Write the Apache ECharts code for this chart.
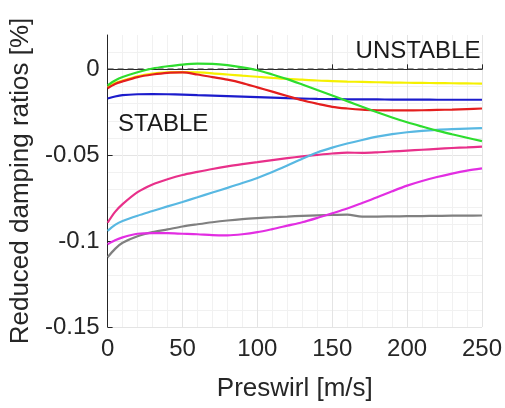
<!DOCTYPE html>
<html>
<head>
<meta charset="utf-8">
<script src="https://cdn.jsdelivr.net/npm/echarts@6/dist/echarts.min.js"></script>
<style>html,body{margin:0;padding:0;background:#fff}#c{width:505px;height:408px}</style>
</head>
<body>
<div id="c"></div>
<script>
var xs = [0,5,10,20,30,40,50,60,70,80,90,100,110,120,130,140,150,160,170,180,190,200,210,220,230,240,250];
var yellow  = [-0.0103,-0.0080,-0.0065,-0.0040,-0.0025,-0.0018,-0.0016,-0.0018,-0.0023,-0.0030,-0.0037,-0.0043,-0.0050,-0.0056,-0.0060,-0.0065,-0.0068,-0.0071,-0.0073,-0.0075,-0.0077,-0.0078,-0.0079,-0.0080,-0.0081,-0.0082,-0.0083];
var red     = [-0.0110,-0.0085,-0.0070,-0.0045,-0.0030,-0.0020,-0.0018,-0.0030,-0.0045,-0.0060,-0.0080,-0.0105,-0.0130,-0.0155,-0.0180,-0.0200,-0.0218,-0.0228,-0.0235,-0.0238,-0.0239,-0.0239,-0.0238,-0.0236,-0.0234,-0.0231,-0.0228];
var green   = [-0.0093,-0.0065,-0.0045,-0.0017,0.0005,0.0018,0.0028,0.0033,0.0032,0.0025,0.0012,-0.0005,-0.0030,-0.0057,-0.0088,-0.0120,-0.0152,-0.0185,-0.0218,-0.0250,-0.0280,-0.0308,-0.0333,-0.0357,-0.0378,-0.0398,-0.0418];
var blue    = [-0.0170,-0.0158,-0.0150,-0.0145,-0.0144,-0.0145,-0.0147,-0.0150,-0.0153,-0.0156,-0.0159,-0.0162,-0.0165,-0.0168,-0.0170,-0.0172,-0.0173,-0.0174,-0.0175,-0.0175,-0.0176,-0.0176,-0.0176,-0.0177,-0.0177,-0.0177,-0.0177];
var cyan    = [-0.0940,-0.0905,-0.0883,-0.0852,-0.0825,-0.0798,-0.0772,-0.0745,-0.0717,-0.0690,-0.0662,-0.0632,-0.0598,-0.0560,-0.0520,-0.0484,-0.0456,-0.0432,-0.0411,-0.0392,-0.0377,-0.0366,-0.0358,-0.0352,-0.0348,-0.0345,-0.0342];
var crimson = [-0.0893,-0.0830,-0.0785,-0.0715,-0.0670,-0.0640,-0.0615,-0.0597,-0.0580,-0.0565,-0.0552,-0.0540,-0.0528,-0.0517,-0.0507,-0.0498,-0.0490,-0.0485,-0.0486,-0.0483,-0.0478,-0.0473,-0.0468,-0.0463,-0.0458,-0.0454,-0.0450];
var magenta = [-0.1018,-0.0995,-0.0978,-0.0957,-0.0953,-0.0954,-0.0957,-0.0960,-0.0965,-0.0966,-0.0960,-0.0948,-0.0930,-0.0910,-0.0890,-0.0865,-0.0838,-0.0810,-0.0778,-0.0745,-0.0710,-0.0677,-0.0650,-0.0627,-0.0607,-0.0590,-0.0577];
var gray    = [-0.1094,-0.1045,-0.1010,-0.0972,-0.0948,-0.0932,-0.0915,-0.0902,-0.0890,-0.0880,-0.0872,-0.0866,-0.0861,-0.0857,-0.0853,-0.0850,-0.0848,-0.0846,-0.0857,-0.0857,-0.0856,-0.0855,-0.0854,-0.0853,-0.0852,-0.0852,-0.0851];
var xTicks = [0,50,100,150,200,250];
var yTicks = [-0.15,-0.1,-0.05,0];
var zeroLine = [[0,0],[250,0]];
var labels = {unstable:'UNSTABLE', stable:'STABLE'};

var FONT = "'Liberation Sans', Arial, sans-serif";
var TXT = '#262626';
function pairs(v){ return xs.map(function(x,i){ return [x, v[i]]; }); }
function ser(name, v, color){
  return {name:name, type:'line', data:pairs(v), smooth:0.3, symbol:'none',
    lineStyle:{color:color, width:2.2}, z:3};
}
var chart = echarts.init(document.getElementById('c'), null, {renderer:'canvas'});
chart.setOption({
  animation:false,
  backgroundColor:'#fff',
  grid:{left:107, right:23, top:35, bottom:81},
  xAxis:{type:'value', min:0, max:250, interval:50,
    name:'Preswirl [m/s]', nameLocation:'middle', nameGap:49,
    nameTextStyle:{fontFamily:FONT, fontSize:26, color:TXT},
    axisLine:{show:true, lineStyle:{color:TXT, width:1}},
    axisTick:{show:true, inside:true, length:5, lineStyle:{color:TXT}, customValues:xTicks},
    axisLabel:{fontFamily:FONT, fontSize:24, color:TXT, margin:10, customValues:xTicks},
    splitLine:{show:true, lineStyle:{color:'#e4e4e4', width:1}},
    minorTick:{show:false, splitNumber:5},
    minorSplitLine:{show:true, lineStyle:{color:'#f1f1f1', width:1}}
  },
  yAxis:{type:'value', min:-0.15, max:0.02, interval:0.05,
    name:'Reduced damping ratios [%]', nameLocation:'middle', nameGap:68,
    nameTextStyle:{fontFamily:FONT, fontSize:26, color:TXT},
    axisLine:{show:true, lineStyle:{color:TXT, width:1}},
    axisTick:{show:true, inside:true, length:5, lineStyle:{color:TXT}, customValues:yTicks},
    axisLabel:{fontFamily:FONT, fontSize:24, color:TXT, margin:8, customValues:yTicks},
    splitLine:{show:true, lineStyle:{color:'#e4e4e4', width:1}},
    minorTick:{show:false, splitNumber:5},
    minorSplitLine:{show:true, lineStyle:{color:'#f1f1f1', width:1}}
  },
  series:[
    {name:'zero', type:'line', data:zeroLine, symbol:'none', z:2,
      lineStyle:{color:'#333', width:1.5, type:[6,4]},
      markPoint:{symbol:'circle', symbolSize:0, silent:true,
        label:{show:true, fontFamily:FONT, fontSize:24, color:'#1a1a1a'},
        data:[
          {coord:[249,0.0105], value:labels.unstable, label:{formatter:labels.unstable, position:'left', distance:0}},
          {coord:[7,-0.032], value:labels.stable, label:{formatter:labels.stable, position:'right', distance:0}}
        ]}
    },
    ser('yellow', yellow, '#f5f000'),
    ser('gray', gray, '#808080'),
    ser('magenta', magenta, '#e22ee2'),
    ser('crimson', crimson, '#e8308a'),
    ser('cyan', cyan, '#58b8e2'),
    ser('blue', blue, '#1c1ccc'),
    ser('red', red, '#e41e1e'),
    ser('green', green, '#2edd2e')
  ]
});
</script>
</body>
</html>
